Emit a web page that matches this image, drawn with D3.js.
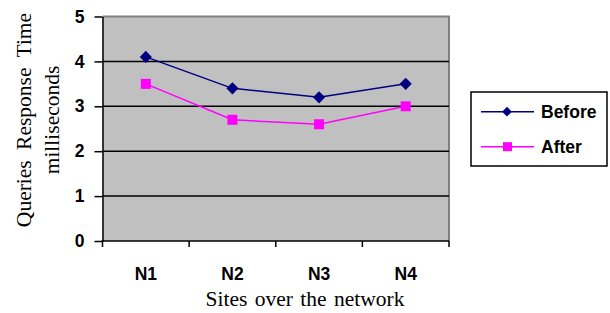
<!DOCTYPE html>
<html><head><meta charset="utf-8">
<script src="https://cdn.jsdelivr.net/npm/d3@7"></script>
<style>body{margin:0;background:#fff}svg{display:block}</style>
</head><body>
<svg id="c" width="610" height="313"></svg>
<script>
const categories = ["N1", "N2", "N3", "N4"];
const before = [4.1, 3.4, 3.2, 3.5];
const after = [3.5, 2.7, 2.6, 3.0];
const yTicks = [0, 1, 2, 3, 4, 5];
const seriesNames = ["Before", "After"];
const colors = ["#000080", "#ff00ff"];

const svg = d3.select("#c");
const L = 102.5, R = 449, T = 16.5, B = 241;
const x = d3.scaleBand().domain(categories).range([L, R]);
const y = d3.scaleLinear().domain([0, 5]).range([B, T]);

svg.append("rect").attr("x", L).attr("y", T).attr("width", R - L).attr("height", B - T)
  .attr("fill", "#c0c0c0");
svg.append("path").attr("d", `M${L},${T}H${R}V${B}`).attr("fill", "none")
  .attr("stroke", "#808080").attr("stroke-width", 2);
svg.append("g").selectAll("line").data(yTicks.filter(d => d > 0 && d < 5)).join("line")
  .attr("x1", L).attr("x2", R).attr("y1", d => y(d)).attr("y2", d => y(d))
  .attr("stroke", "#000").attr("stroke-width", 1.5);

const ya = svg.append("g").attr("transform", `translate(${L},0)`)
  .call(d3.axisLeft(y).tickValues(yTicks).tickFormat(d3.format("d")).tickSize(8).tickPadding(10).tickSizeOuter(0));
ya.select(".domain").attr("stroke", "#000").attr("stroke-width", 1.5);
ya.selectAll(".tick line").attr("stroke", "#000").attr("stroke-width", 1.5);
ya.selectAll("text").attr("font-family", "Liberation Sans, Arial, sans-serif")
  .attr("font-weight", "bold").attr("font-size", 17.5).attr("fill", "#000");

const xa = svg.append("g").attr("transform", `translate(0,${B})`)
  .call(d3.axisBottom(x).tickSize(0).tickPadding(27));
xa.select(".domain").remove();
xa.selectAll("text").attr("font-family", "Liberation Sans, Arial, sans-serif")
  .attr("font-weight", "bold").attr("font-size", 17.5).attr("fill", "#000");
const bounds = categories.map(c => x(c)).concat([R]);
svg.append("g").selectAll("line").data(bounds).join("line")
  .attr("x1", d => d).attr("x2", d => d).attr("y1", B).attr("y2", B + 6)
  .attr("stroke", "#000").attr("stroke-width", 1.5);
svg.append("line").attr("x1", L - 1).attr("x2", R).attr("y1", B).attr("y2", B)
  .attr("stroke", "#000").attr("stroke-width", 1.5);

const data = [before, after];
const line = d3.line().x((d, i) => x(categories[i]) + x.bandwidth() / 2).y(d => y(d));
data.forEach((s, k) => {
  svg.append("path").datum(s).attr("d", line).attr("fill", "none")
    .attr("stroke", colors[k]).attr("stroke-width", 1.5);
});
const diamond = d3.symbol().type(d3.symbolDiamond2).size(95);
svg.append("g").selectAll("path").data(before).join("path")
  .attr("transform", (d, i) => `translate(${x(categories[i]) + x.bandwidth() / 2},${y(d)})`)
  .attr("d", diamond).attr("fill", colors[0]);
svg.append("g").selectAll("rect").data(after).join("rect")
  .attr("x", (d, i) => x(categories[i]) + x.bandwidth() / 2 - 5)
  .attr("y", d => y(d) - 5).attr("width", 10).attr("height", 10).attr("fill", colors[1]);

svg.append("text").attr("x", 305).attr("y", 306).attr("text-anchor", "middle")
  .attr("font-family", "Liberation Serif, Times New Roman, serif").attr("font-size", 21.5)
  .attr("word-spacing", 2).text("Sites over the network");
const yt = svg.append("g").attr("transform", "translate(0,120) rotate(-90)")
  .attr("font-family", "Liberation Serif, Times New Roman, serif").attr("font-size", 21.5)
  .attr("text-anchor", "middle");
yt.append("text").attr("x", 0).attr("y", 31).attr("word-spacing", 5).text("Queries Response Time");
yt.append("text").attr("x", 0).attr("y", 59).text("milliseconds");

const lg = svg.append("g");
lg.append("rect").attr("x", 471).attr("y", 92).attr("width", 136).attr("height", 74)
  .attr("fill", "#fff").attr("stroke", "#000").attr("stroke-width", 1.5);
const ly = [111.7, 146.7];
seriesNames.forEach((n, k) => {
  lg.append("line").attr("x1", 481).attr("x2", 534).attr("y1", ly[k]).attr("y2", ly[k])
    .attr("stroke", colors[k]).attr("stroke-width", 1.5);
  if (k === 0) {
    lg.append("path").attr("transform", `translate(507,${ly[k]})`)
      .attr("d", d3.symbol().type(d3.symbolDiamond2).size(60)).attr("fill", colors[k]);
  } else {
    lg.append("rect").attr("x", 503).attr("y", ly[k] - 4.5).attr("width", 9).attr("height", 9)
      .attr("fill", colors[k]);
  }
  lg.append("text").attr("x", 541).attr("y", ly[k]).attr("dy", "0.36em")
    .attr("font-family", "Liberation Sans, Arial, sans-serif").attr("font-weight", "bold")
    .attr("font-size", 17.5).text(n);
});
</script>
</body></html>
